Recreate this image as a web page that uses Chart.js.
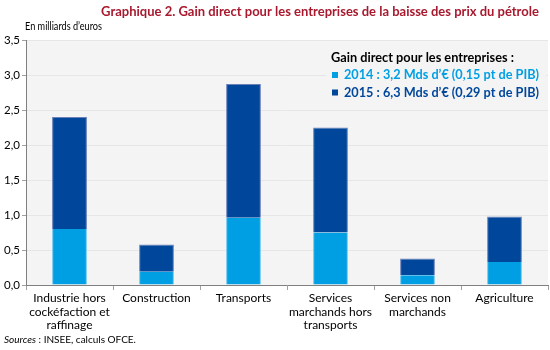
<!DOCTYPE html>
<html>
<head>
<meta charset="utf-8">
<script src="https://cdn.jsdelivr.net/npm/chart.js@4"></script>
<style>
  html, body { margin: 0; padding: 0; background: #fff; }
  #wrap { width: 550px; height: 350px; position: relative; }
</style>
</head>
<body>
<div id="wrap"><canvas id="gain-chart"></canvas></div>
<script>
// Gain direct pour les entreprises (Mds d'euros)
const categories = [
  ['Industrie hors', 'cockéfaction et', 'raffinage'],
  'Construction',
  'Transports',
  ['Services', 'marchands hors', 'transports'],
  ['Services non', 'marchands'],
  'Agriculture'
];
const values2014 = [0.80, 0.19, 0.96, 0.75, 0.14, 0.33];
const values2015 = [1.60, 0.39, 1.91, 1.50, 0.24, 0.65];
const yTicks = [0, 0.5, 1, 1.5, 2, 2.5, 3, 3.5];

const chartTitle = 'Graphique 2. Gain direct pour les entreprises de la baisse des prix du pétrole';
const unitLabel = 'En milliards d\u2019euros';
const legendTitle = 'Gain direct pour les entreprises :';
const legendItems = [
  { text: '2014 : 3,2 Mds d\u2019\u20ac (0,15 pt de PIB)', color: '#009fe3' },
  { text: '2015 : 6,3 Mds d\u2019\u20ac (0,29 pt de PIB)', color: '#00479b' }
];

const FONT = 'Lato, "Open Sans", sans-serif';

// fills the plot area and draws the extra texts
const decorPlugin = {
  id: 'decor',
  beforeDraw(chart) {
    const { ctx, chartArea } = chart;
    ctx.save();
    ctx.fillStyle = '#f4f4f4';
    ctx.fillRect(chartArea.left, chartArea.top, chartArea.right - chartArea.left, chartArea.bottom - chartArea.top);
    ctx.restore();
  },
  afterDatasetsDraw(chart) {
    const { ctx } = chart;
    ctx.save();
    ctx.textBaseline = 'middle';

    // title
    ctx.fillStyle = '#a8192e';
    ctx.font = 'bold 13px ' + FONT;
    ctx.textAlign = 'center';
    ctx.fillText(chartTitle, 320, 12, 446);

    // unit
    ctx.fillStyle = '#000';
    ctx.font = '11px ' + FONT;
    ctx.textAlign = 'left';
    ctx.fillText(unitLabel, 25, 26, 77);

    // legend box
    ctx.fillStyle = '#f4f4f4';
    ctx.fillRect(326, 46, 220, 58);
    ctx.fillStyle = '#000';
    ctx.font = 'bold 13px ' + FONT;
    ctx.fillText(legendTitle, 331, 58, 183);
    legendItems.forEach((item, i) => {
      const y = 75 + i * 17.5;
      ctx.fillStyle = item.color;
      ctx.fillRect(332, y - 3, 6, 6);
      ctx.fillText(item.text, 344, y, 195);
    });

    // sources
    ctx.fillStyle = '#000';
    ctx.font = 'italic 10px ' + FONT;
    ctx.fillText('Sources', 4, 340);
    const w = ctx.measureText('Sources').width;
    ctx.font = '10px ' + FONT;
    ctx.fillText(' : INSEE, calculs OFCE.', 4 + w, 340);
    ctx.restore();
  }
};

function fmt(v) {
  return v.toFixed(1).replace('.', ',');
}

function initChart() {
  const ctx = document.getElementById('gain-chart').getContext('2d');
  new Chart(ctx, {
    type: 'bar',
    data: {
      labels: categories,
      datasets: [
        {
          label: '2014',
          data: values2014,
          backgroundColor: '#009fe3',
          borderColor: '#6cc6ee',
          borderWidth: { left: 1, right: 1, top: 0, bottom: 0 },
          borderSkipped: false
        },
        {
          label: '2015',
          data: values2015,
          backgroundColor: '#00479b',
          borderColor: '#6a80b8',
          borderWidth: 1,
          borderSkipped: 'bottom'
        }
      ]
    },
    options: {
      responsive: true,
      maintainAspectRatio: false,
      animation: false,
      layout: { padding: { top: 40, right: 2, bottom: 14, left: 0 } },
      datasets: { bar: { barPercentage: 0.4, categoryPercentage: 1 } },
      scales: {
        x: {
          stacked: true,
          grid: { display: true, offset: true, drawOnChartArea: false, tickLength: 5, tickColor: '#a0a0a0' },
          border: { color: '#808080', width: 1 },
          ticks: {
            color: '#000',
            font: { family: FONT, size: 12, lineHeight: 1.1 },
            padding: 2,
            maxRotation: 0,
            autoSkip: false
          },
          afterFit(scale) { scale.height = 51; }
        },
        y: {
          stacked: true,
          min: 0,
          max: 3.5,
          afterBuildTicks(scale) {
            scale.ticks = yTicks.map(v => ({ value: v }));
          },
          grid: { color: '#e6e6e6', tickLength: 4, tickColor: '#a0a0a0' },
          border: { color: '#808080', width: 1 },
          ticks: {
            color: '#000',
            font: { family: FONT, size: 11.5 },
            padding: 2,
            callback: v => fmt(v)
          },
          afterFit(scale) { scale.width = 26; }
        }
      },
      plugins: {
        legend: { display: false },
        title: { display: false },
        tooltip: { enabled: false }
      }
    },
    plugins: [decorPlugin]
  });
}

window.addEventListener('load', initChart);
</script>
</body>
</html>
